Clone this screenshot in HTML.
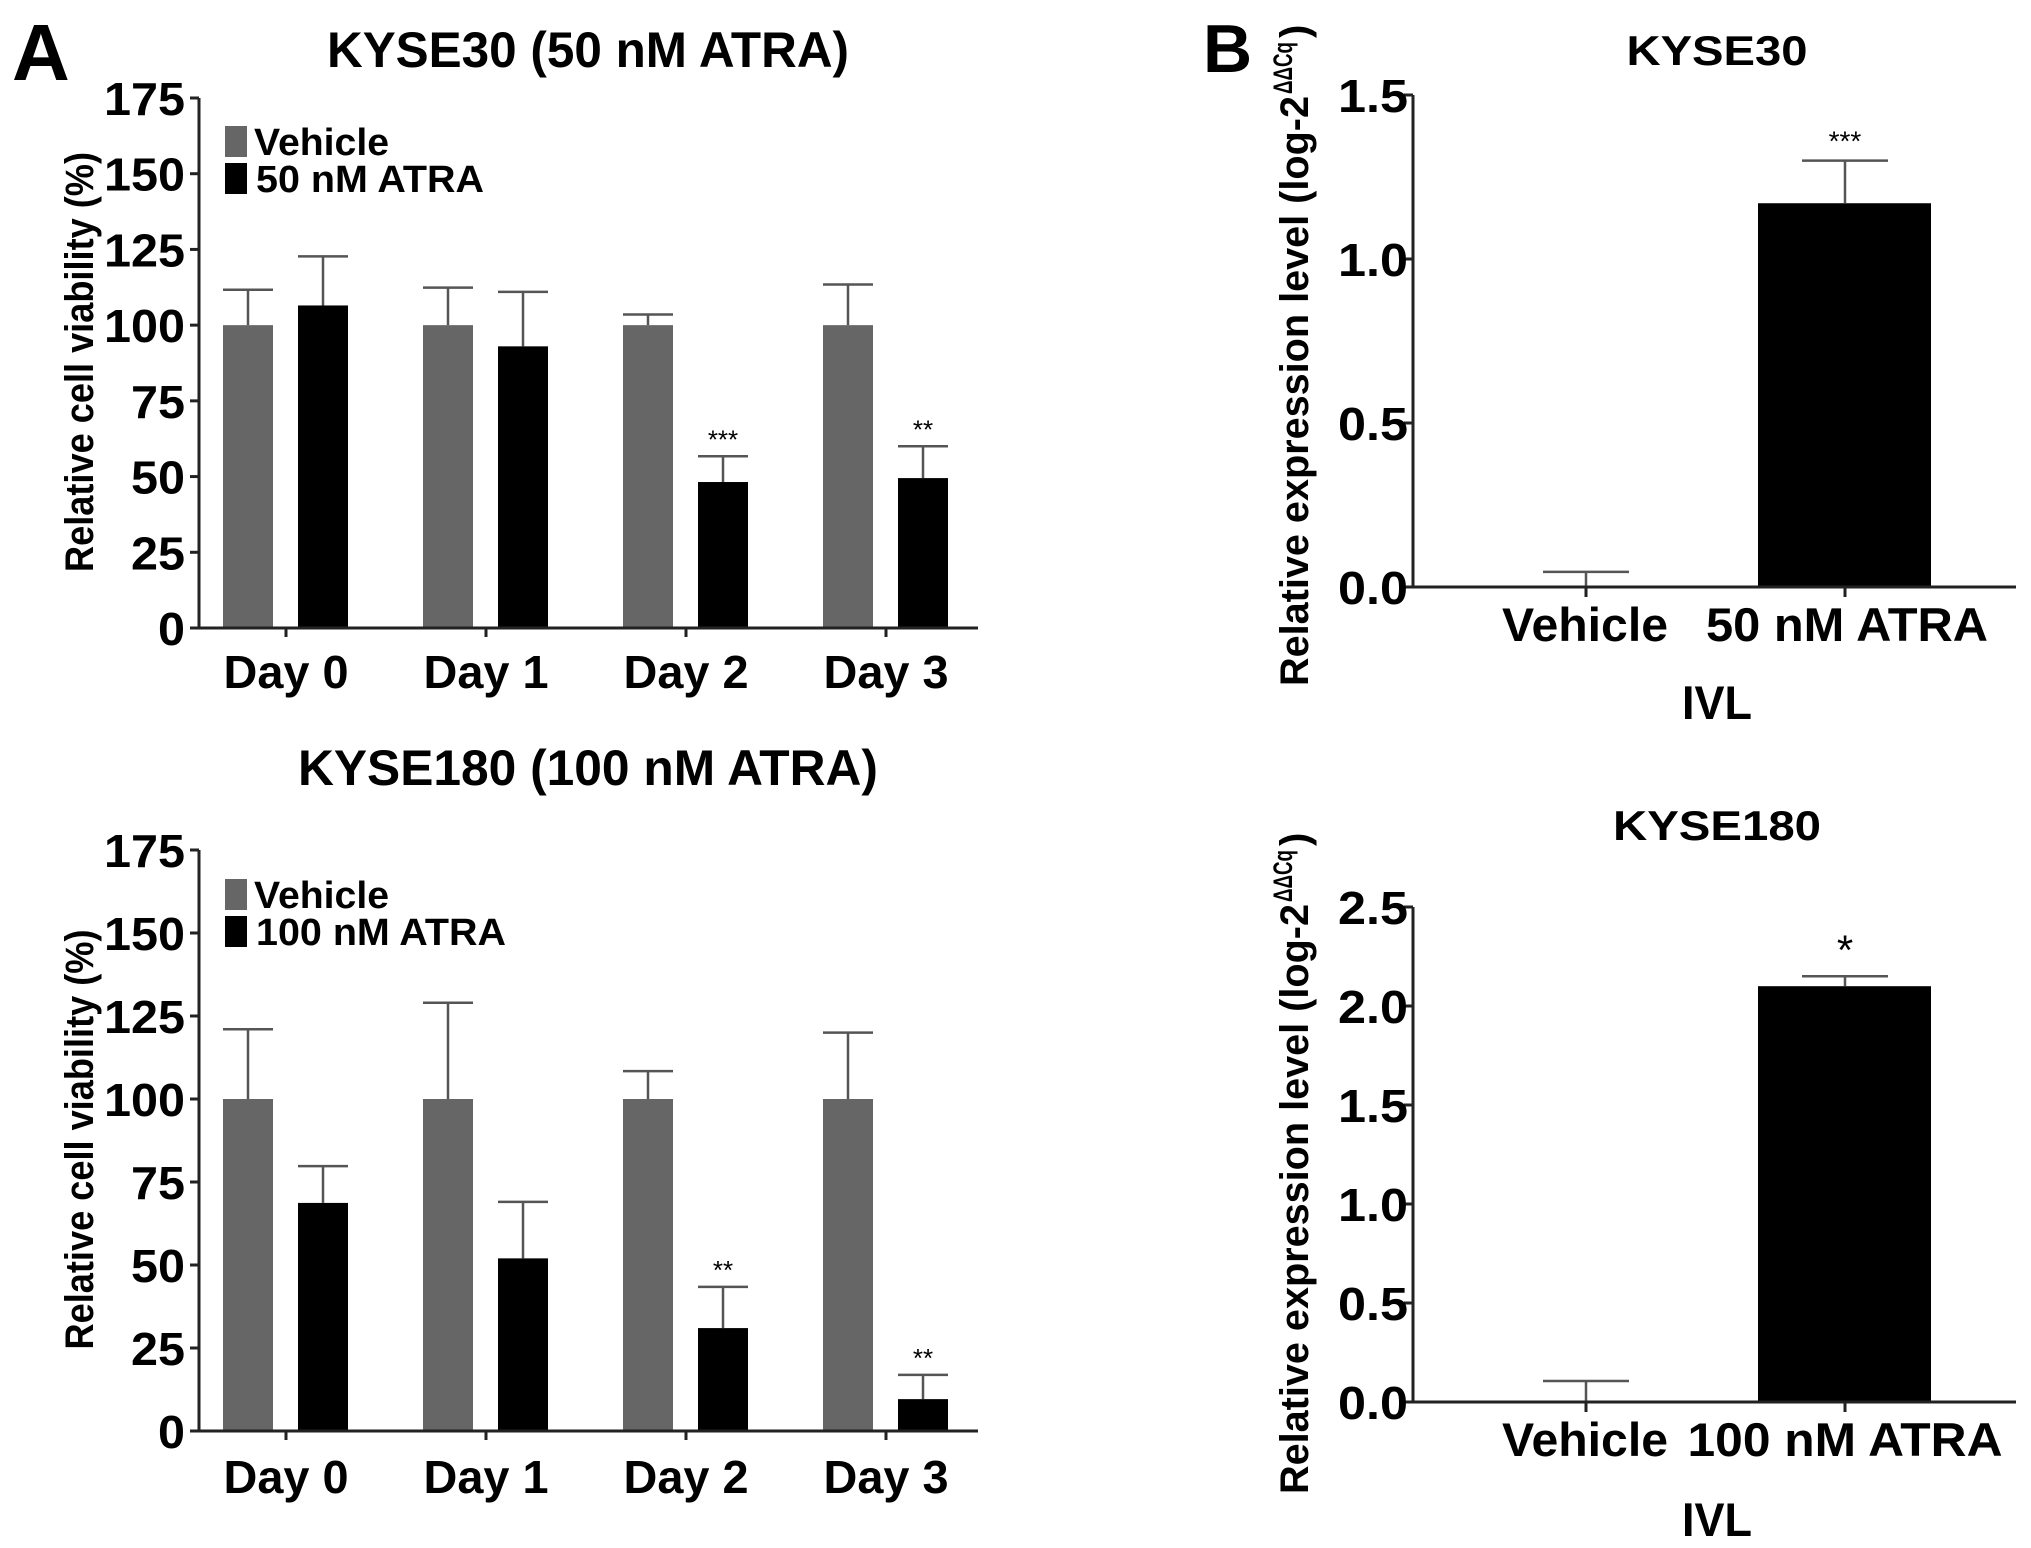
<!DOCTYPE html>
<html><head><meta charset="utf-8"><style>
html,body{margin:0;padding:0;background:#fff}
svg{display:block}
text{font-family:"Liberation Sans",Arial,sans-serif;font-weight:bold;fill:#000}
</style></head><body>
<svg id="fig" width="2031" height="1548" viewBox="0 0 2031 1548" xmlns="http://www.w3.org/2000/svg">
<text x="12" y="80" font-size="80">A</text>
<text x="1203" y="72" font-size="68">B</text>
</svg>
<script>
const days = ["Day 0","Day 1","Day 2","Day 3"];
const vTicks = [0,25,50,75,100,125,150,175];
const a1Vehicle = [100,100,100,100];
const a1VehicleErr = [111.7,112.4,103.5,113.4];
const a1Atra = [106.5,93,48.2,49.5];
const a1AtraErr = [122.7,111,56.7,60];
const a1Stars = ["","","***","**"];
const a2Vehicle = [100,100,100,100];
const a2VehicleErr = [121,129,108.4,120];
const a2Atra = [68.7,52,31,9.6];
const a2AtraErr = [79.8,69,43.4,16.9];
const a2Stars = ["","","**","**"];
const bCats1 = ["Vehicle","50 nM ATRA"];
const b1Vals = [0,1.17];
const b1Errs = [0.046,1.3];
const b1Stars = ["","***"];
const b1Ticks = ["0.0","0.5","1.0","1.5"];
const bCats2 = ["Vehicle","100 nM ATRA"];
const b2Vals = [0,2.10];
const b2Errs = [0.106,2.15];
const b2Stars = ["","*"];
const b2Ticks = ["0.0","0.5","1.0","1.5","2.0","2.5"];

const svg = document.getElementById('fig');
const NS = "http://www.w3.org/2000/svg";
function mk(tag, attrs, txt){
  const e = document.createElementNS(NS, tag);
  for (const k in attrs) e.setAttribute(k, attrs[k]);
  if (txt !== undefined) e.textContent = txt;
  svg.appendChild(e);
  return e;
}

function panelA(cfg){
  const y = v => cfg.y0 - (v/175)*(cfg.y0-cfg.y175);
  const gx = i => cfg.c0 + i*200;
  let e;
  e = mk('text',{x:cfg.titleX,y:cfg.titleY,'font-size':50,'text-anchor':'middle',textLength:cfg.titleW,lengthAdjust:'spacingAndGlyphs'},cfg.title);
  
  
  e = mk('text',{x:0,y:0,'font-size':40,'text-anchor':'middle',textLength:420,lengthAdjust:'spacingAndGlyphs',transform:`translate(93,${(cfg.y0+cfg.y175)/2-1}) rotate(-90)`},'Relative cell viability (%)');
  
  
  vTicks.forEach(t=>{
    e = mk('line',{x1:190,x2:199,y1:y(t),y2:y(t),stroke:'#222','stroke-width':3});
    
    
    e = mk('text',{x:185,y:y(t)+17,'font-size':46,'text-anchor':'end',textLength:String(t).length*27,lengthAdjust:'spacingAndGlyphs'},String(t));
    
    
  });
  days.forEach((d,i)=>{
    const c = gx(i);
    e = mk('rect',{x:c-63,y:y(cfg.veh[i]),width:50,height:y(0)-y(cfg.veh[i]),fill:'#666'});
    
    
    e = mk('rect',{x:c+12,y:y(cfg.atra[i]),width:50,height:y(0)-y(cfg.atra[i]),fill:'#000'});
    
    
    [[c-38,cfg.veh[i],cfg.vehErr[i]],[c+37,cfg.atra[i],cfg.atraErr[i]]].forEach(([x,v,er])=>{
      e = mk('path',{d:`M${x} ${y(v)}V${y(er)}M${x-25} ${y(er)}H${x+25}`,stroke:'#555','stroke-width':2.5,fill:'none'});
      
      
    });
    if (cfg.stars[i]){
      e = mk('text',{x:c+37,y:y(cfg.atraErr[i])-8,'font-size':26,'text-anchor':'middle',fill:'#333'},cfg.stars[i]);
      e.style.fontWeight='normal';
      
      
    }
    e = mk('line',{x1:c,x2:c,y1:y(0),y2:y(0)+9,stroke:'#222','stroke-width':3});
    
    
    e = mk('text',{x:c,y:cfg.dayY,'font-size':46,'text-anchor':'middle',textLength:125,lengthAdjust:'spacingAndGlyphs'},d);
    
    
  });
  e = mk('path',{d:`M199 ${y(175)}V${y(0)}H978`,stroke:'#222','stroke-width':3,fill:'none'});
  
  
  e = mk('rect',{x:225,y:cfg.legY,width:22,height:31,fill:'#666'});
  
  
  e = mk('text',{x:254,y:cfg.legY+29,'font-size':38,textLength:135,lengthAdjust:'spacingAndGlyphs'},'Vehicle');
  
  
  e = mk('rect',{x:225,y:cfg.legY+37,width:22,height:31,fill:'#000'});
  
  
  e = mk('text',{x:256,y:cfg.legY+66,'font-size':38,textLength:cfg.legW,lengthAdjust:'spacingAndGlyphs'},cfg.legText);
  
  
}

panelA({id:'a-kyse30',y0:628,y175:98,c0:286,veh:a1Vehicle,vehErr:a1VehicleErr,atra:a1Atra,atraErr:a1AtraErr,stars:a1Stars,
  title:'KYSE30 (50 nM ATRA)',titleX:588,titleY:67,titleW:522,dayY:688,legY:126,legText:'50 nM ATRA',legW:228});
panelA({id:'a-kyse180',y0:1431,y175:850,c0:286,veh:a2Vehicle,vehErr:a2VehicleErr,atra:a2Atra,atraErr:a2AtraErr,stars:a2Stars,
  title:'KYSE180 (100 nM ATRA)',titleX:588,titleY:785,titleW:580,dayY:1493,legY:879,legText:'100 nM ATRA',legW:250});

function panelB(cfg){
  const max = cfg.ticks.length-1;
  const y = v => cfg.y0 - v/(max*0.5)*(cfg.y0-cfg.yTop);
  const xs = [1586,1845];
  let e;
  e = mk('text',{x:1717,y:cfg.titleY,'font-size':42,'text-anchor':'middle',textLength:cfg.titleW,lengthAdjust:'spacingAndGlyphs'},cfg.title);
  
  
  e = mk('text',{x:0,y:0,'font-size':40,'text-anchor':'start',textLength:590,lengthAdjust:'spacingAndGlyphs',transform:`translate(1308,${cfg.labBottom}) rotate(-90)`},'Relative expression level (log-2');
  
  
  e = mk('text',{x:0,y:0,'font-size':27,'text-anchor':'start',textLength:52,lengthAdjust:'spacingAndGlyphs',transform:`translate(1292,${cfg.labBottom-592}) rotate(-90)`},'ΔΔCq');
  
  
  e = mk('text',{x:0,y:0,'font-size':40,'text-anchor':'start',transform:`translate(1308,${cfg.labBottom-648}) rotate(-90)`},')');
  
  
  cfg.ticks.forEach((t,i)=>{
    const v = i*0.5;
    e = mk('line',{x1:1404,x2:1413,y1:y(v),y2:y(v),stroke:'#222','stroke-width':3});
    
    
    e = mk('text',{x:1408,y:y(v)+17,'font-size':46,'text-anchor':'end',textLength:70,lengthAdjust:'spacingAndGlyphs'},t);
    
    
  });
  cfg.cats.forEach((c,i)=>{
    const x = xs[i];
    if (cfg.vals[i] > 0){
      e = mk('rect',{x:x-87,y:y(cfg.vals[i]),width:173,height:y(0)-y(cfg.vals[i]),fill:'#000'});
      
      
    }
    e = mk('path',{d:`M${x} ${y(cfg.vals[i])}V${y(cfg.errs[i])}M${x-43} ${y(cfg.errs[i])}H${x+43}`,stroke:'#555','stroke-width':2.5,fill:'none'});
    
    
    if (cfg.stars[i]){
      e = mk('text',{x:x,y:y(cfg.errs[i])-cfg.starOff,'font-size':cfg.starSize,'text-anchor':'middle',fill:'#333'},cfg.stars[i]);
      e.style.fontWeight='normal';
      
      
    }
    e = mk('line',{x1:x,x2:x,y1:y(0),y2:y(0)+10,stroke:'#222','stroke-width':3});
    
    
    const cx = i===0 ? 1585 : cfg.lab2X;
    e = mk('text',{x:cx,y:cfg.labY,'font-size':47,'text-anchor':'middle',textLength:i===0?166:cfg.lab2W,lengthAdjust:'spacingAndGlyphs'},c);
    
    
  });
  e = mk('path',{d:`M1413 ${y(max*0.5)}V${y(0)}H2016`,stroke:'#222','stroke-width':3,fill:'none'});
  
  
  e = mk('text',{x:1717,y:cfg.ivlY,'font-size':47,'text-anchor':'middle',textLength:70,lengthAdjust:'spacingAndGlyphs'},'IVL');
  
  
}

panelB({id:'b-kyse30',title:'KYSE30',titleY:65,titleW:181,y0:587,yTop:95,ticks:b1Ticks,cats:bCats1,vals:b1Vals,errs:b1Errs,stars:b1Stars,
  starOff:10,starSize:28,labY:641,lab2X:1847,lab2W:282,ivlY:719,labBottom:686});
panelB({id:'b-kyse180',title:'KYSE180',titleY:840,titleW:208,y0:1402,yTop:907,ticks:b2Ticks,cats:bCats2,vals:b2Vals,errs:b2Errs,stars:b2Stars,
  starOff:12,starSize:42,labY:1456,lab2X:1845,lab2W:315,ivlY:1536,labBottom:1494});
</script>
</body></html>
